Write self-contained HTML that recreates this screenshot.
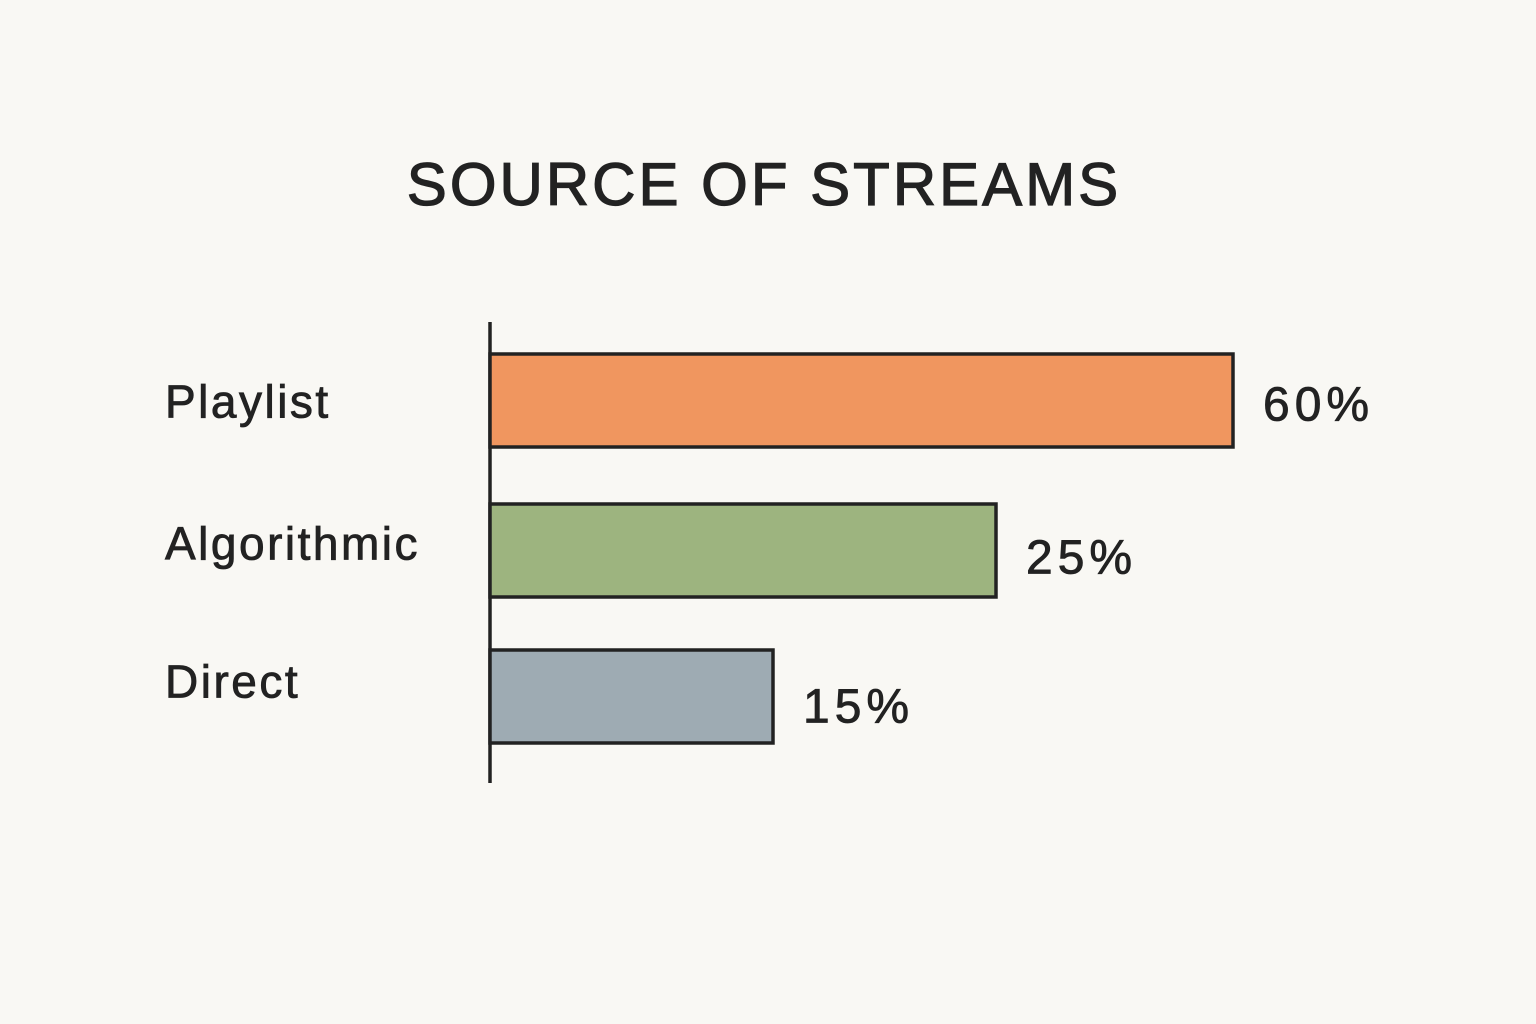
<!DOCTYPE html>
<html>
<head>
<meta charset="utf-8">
<style>
  html,body{margin:0;padding:0;background:#f9f8f4;}
  body{width:1536px;height:1024px;overflow:hidden;}
  svg{display:block;}
  text{font-family:"Liberation Sans",sans-serif;fill:#222;}
</style>
</head>
<body>
<svg id="chart" width="1536" height="1024" viewBox="0 0 1536 1024">
  <rect x="0" y="0" width="1536" height="1024" fill="#f9f8f4"/>
  <text x="764" y="205" text-anchor="middle" font-size="60" letter-spacing="3" stroke="#222" stroke-width="1.2">SOURCE OF STREAMS</text>
  <line x1="490" y1="322" x2="490" y2="783" stroke="#222" stroke-width="3.5"/>
  <g id="bars"></g>
</svg>
<script>
const categories = ["Playlist", "Algorithmic", "Direct"];
const values = [60, 25, 15];
const valueLabels = ["60%", "25%", "15%"];
const colors = ["#f0965f", "#9db47f", "#9eabb3"];

// Axis functions
const x0 = 490;
const scaleDomain = [0, 15, 25, 60, 100];
const scaleRange = [0, 283, 506, 743, 1000];
function xScale(v){
  for (let i = 1; i < scaleDomain.length; i++){
    if (v <= scaleDomain[i] || i === scaleDomain.length - 1){
      const d0 = scaleDomain[i-1], d1 = scaleDomain[i];
      const r0 = scaleRange[i-1], r1 = scaleRange[i];
      return x0 + r0 + (v - d0) / (d1 - d0) * (r1 - r0);
    }
  }
}
const bandTop = 354, bandStep = 148, barH = 93;
function yBand(i){ return bandTop + i * bandStep + (i === 1 ? 2 : 0); }

const NS = "http://www.w3.org/2000/svg";
const g = document.getElementById("bars");
categories.forEach((cat, i) => {
  const y = yBand(i);
  const xe = xScale(values[i]);
  const r = document.createElementNS(NS, "rect");
  r.setAttribute("x", x0);
  r.setAttribute("y", y);
  r.setAttribute("width", xe - x0);
  r.setAttribute("height", barH);
  r.setAttribute("fill", colors[i]);
  r.setAttribute("stroke", "#222");
  r.setAttribute("stroke-width", "3.5");
  
  
  g.appendChild(r);

  const lab = document.createElementNS(NS, "text");
  lab.setAttribute("x", 165);
  lab.setAttribute("y", y + barH/2 + 17 - i*8);
  lab.setAttribute("font-size", "46");
  lab.setAttribute("letter-spacing", "2.5");
  lab.setAttribute("stroke", "#222");
  lab.setAttribute("stroke-width", "0.8");
  lab.textContent = cat;
  
  
  g.appendChild(lab);

  const vl = document.createElementNS(NS, "text");
  vl.setAttribute("x", xe + 30);
  vl.setAttribute("y", y + barH/2 + 20 + i*3);
  vl.setAttribute("font-size", "48");
  vl.setAttribute("letter-spacing", "5");
  vl.setAttribute("stroke", "#222");
  vl.setAttribute("stroke-width", "0.8");
  vl.textContent = valueLabels[i];
  
  
  g.appendChild(vl);
});
</script>
</body>
</html>
